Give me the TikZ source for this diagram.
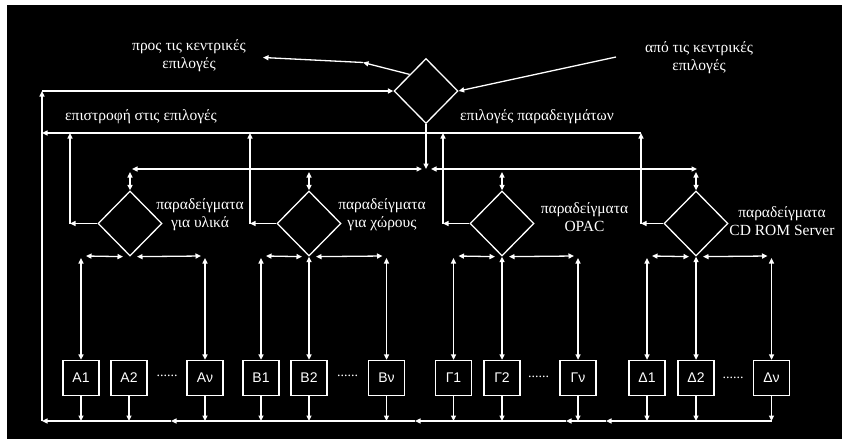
\documentclass[tikz,border=0pt]{standalone}
\usepackage{fontspec}
\setmainfont{Liberation Serif}
\newfontfamily\boxfont{Liberation Sans}
\usetikzlibrary{arrows.meta,shapes.geometric,calc}
\begin{document}
\begin{tikzpicture}[x=1pt,y=-1pt,
  ln/.style={draw=white,line width=1.3pt},
  arr/.style={ln,-{Triangle[length=5.5pt,width=5pt]}},
  darr/.style={ln,{Triangle[length=5.5pt,width=5pt]}-{Triangle[length=5.5pt,width=5pt]}},
  dia/.style={diamond,draw=white,line width=1.3pt,minimum width=64pt,minimum height=65pt,inner sep=0pt},
  bx/.style={rectangle,draw=white,line width=1.3pt,minimum width=36pt,minimum height=35pt,inner sep=0pt,text=white,font=\boxfont\fontsize{14}{16}\selectfont},
  lbl/.style={text=white,font=\fontsize{15.5}{18}\selectfont,align=center,inner sep=0pt},
  dotsnode/.style={text=white,font=\fontsize{14}{16}\selectfont,inner sep=0pt}
]
\fill[white] (0,0) rectangle (842,439);
\fill[black] (7,5) rectangle (842,439);
\useasboundingbox (0,0) rectangle (842,439);

% diamonds
\node[dia] (top) at (426,91) {};
\node[dia] (d1) at (130,223.5) {};
\node[dia] (d2) at (309,223.5) {};
\node[dia] (d3) at (502,223.5) {};
\node[dia] (d4) at (696,223.5) {};

% boxes
\node[bx] (a1) at (81,378) {Α1};
\node[bx] (a2) at (129,378) {Α2};
\node[bx] (an) at (205,378) {Αν};
\node[bx] (b1) at (261,378) {Β1};
\node[bx] (b2) at (309,378) {Β2};
\node[bx] (bn) at (386.5,378) {Βν};
\node[bx] (c1) at (453.5,378) {Γ1};
\node[bx] (c2) at (502,378) {Γ2};
\node[bx] (cn) at (578,378) {Γν};
\node[bx] (e1) at (647,378) {Δ1};
\node[bx] (e2) at (696,378) {Δ2};
\node[bx] (en) at (771.5,378) {Δν};

% dots
\node[dotsnode] (p1) at (167,375.5) {......};
\node[dotsnode] (p2) at (347.5,375.5) {......};
\node[dotsnode] (p3) at (538.5,376.5) {......};
\node[dotsnode] (p4) at (733,377.5) {......};

% labels
\node[lbl] (t1) at (189,55.5) {προς τις κεντρικές\\επιλογές};
\node[lbl] (t2) at (699,57.5) {από τις κεντρικές\\επιλογές};
\node[lbl] (t3) at (141,117) {επιστροφή στις επιλογές};
\node[lbl] (t4) at (537,117) {επιλογές παραδειγμάτων};
\node[lbl] (t5) at (200,215) {παραδείγματα\\για υλικά};
\node[lbl] (t6) at (382,215) {παραδείγματα\\για χώρους};
\node[lbl] (t7) at (584.5,217.5) {παραδείγματα\\OPAC};
\node[lbl] (t8) at (782,221) {παραδείγματα\\CD ROM Server};

% helper coordinates
\coordinate (BL) at (42,421);
\coordinate (TL) at (42,91);
\coordinate (RL) at (42,133);
\coordinate (RR) at (641,133);
\coordinate (ex1) at (363,62.5);
\coordinate (ex2) at (263,57.5);
\coordinate (in1) at (616,57);
\coordinate (bus) at (426,169);
\coordinate (vb) at (0,172);
\coordinate (hb) at (0,256);
\coordinate (vt) at (0,258);
\coordinate (bb) at (0,421);
\coordinate (r1) at (70,223.5);
\coordinate (r2) at (250,223.5);
\coordinate (r3) at (443,223.5);
\coordinate (r4) at (641,223.5);
\coordinate (m1) at (606,421);
\coordinate (m2) at (566,421);
\coordinate (m3) at (415,421);
\coordinate (m4) at (171,421);

% outer loop
\draw[arr] (BL) -- (TL);
\draw[arr] (TL) -- (top.west);
\draw[arr] (top.north west) -- (ex1);
\draw[arr] (ex1) -- (ex2);
\draw[arr] (in1) -- (top.east);

% return line
\draw[arr] (RR) -- (RL);
\foreach \d/\r in {d1/r1,d2/r2,d3/r3,d4/r4}{
  \draw[arr] (\d.west) -- (\r);
  \draw[arr] (\r) -- (\r |- RL);
}

% distribution bus
\draw[arr] (top.south) -- (bus);
\draw[darr] ($(d1.north |- bus)+(2,0)$) -- ($(bus)+(-4,0)$);
\draw[darr] ($(bus)+(5,0)$) -- ($(d4.north |- bus)+(1,0)$);
\foreach \d in {d1,d2,d3,d4}{
  \draw[darr] (\d.north |- vb) -- (\d.north);
}

% lower distribution
\foreach \l/\d/\r in {a1/d1/an,b1/d2/bn,c1/d3/cn,e1/d4/en}{
  \draw[darr] ($(\l |- hb)+(5,0)$) -- ($(\d.south)+(-7,0)$);
  \draw[darr] ($(\d.south)+(7,0)$) -- ($(\r |- hb)+(-4,0)$);
  \draw[darr] (\l |- vt) -- (\l.north);
  \draw[darr] (\r |- vt) -- (\r.north);
}
\draw[darr] (d2.south) -- (b2.north);
\draw[darr] (d3.south) -- (c2.north);
\draw[darr] (d4.south) -- (e2.north);

% bottom bus
\foreach \b in {a1,a2,an,b1,b2,bn,c1,c2,cn,e1,e2,en}{
  \draw[arr] (\b.south) -- (\b.south |- bb);
}
\draw[arr] (en |- bb) -- (m1);
\draw[arr] (m1) -- (m2);
\draw[arr] (m2) -- (m3);
\draw[arr] (m3) -- (m4);
\draw[arr] (m4) -- (BL);
\end{tikzpicture}
\end{document}
